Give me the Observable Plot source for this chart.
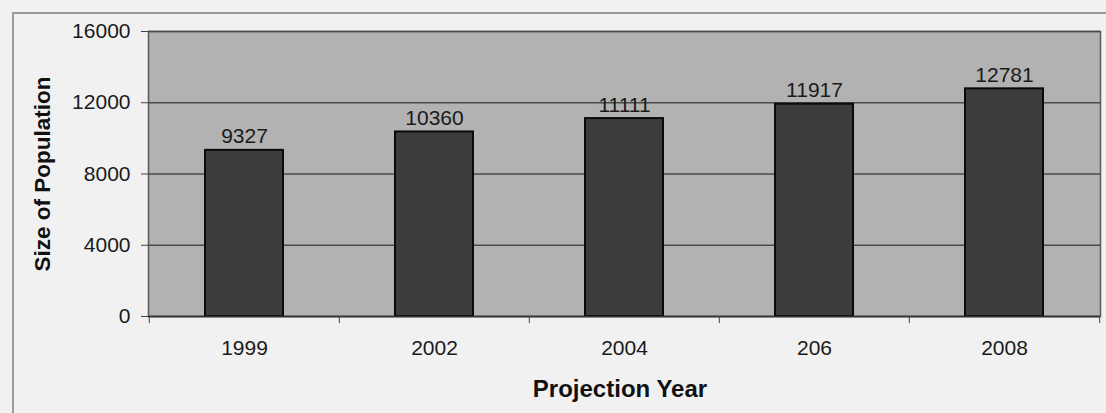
<!DOCTYPE html>
<html>
<head>
<meta charset="utf-8">
<script src="https://cdn.jsdelivr.net/npm/d3@7"></script>
<script src="https://cdn.jsdelivr.net/npm/@observablehq/plot@0.6"></script>
<style>
  html, body { margin: 0; padding: 0; background: #f1f1f1; }
  #wrap { position: relative; width: 1106px; height: 413px; overflow: hidden; }
  #frame { position: absolute; left: 12px; top: 12px; width: 1100px; height: 420px;
           border-left: 2px solid #9a9a9a; border-top: 2px solid #9a9a9a; box-sizing: border-box; }
  #chart { position: absolute; left: 0; top: 0; }
</style>
</head>
<body>
<div id="wrap"><div id="frame"></div><div id="chart"></div></div>
<script>
const years = ["1999", "2002", "2004", "206", "2008"];
const populations = [9327, 10360, 11111, 11917, 12781];
const yTicks = [0, 4000, 8000, 12000, 16000];
const xTitle = "Projection Year";
const yTitle = "Size of Population";

const data = years.map((y, i) => ({year: y, pop: populations[i]}));

const W = 1106, H = 413;
const mL = 148, mR = 6, mT = 31, mB = 97;
const step = (W - mL - mR) / years.length;

const chart = Plot.plot({
  width: W,
  height: H,
  marginLeft: mL,
  marginRight: mR,
  marginTop: mT,
  marginBottom: mB,
  style: {background: "transparent", fontFamily: "Liberation Sans, Arial, sans-serif", color: "#1a1a1a"},
  x: {domain: years, paddingInner: 0.59, paddingOuter: 0.295, label: null},
  y: {domain: [0, 16000], label: null},
  marks: [
    Plot.frame({fill: "#b2b2b2", stroke: "#5a5a5a", strokeWidth: 1.5}),
    Plot.gridY(yTicks, {stroke: "#4a4a4a", strokeOpacity: 1, strokeWidth: 1.3}),
    Plot.barY(data, {x: "year", y: "pop", fill: "#3d3d3d", stroke: "#0a0a0a", strokeWidth: 2}),
    Plot.text(data, {x: "year", y: "pop", text: d => String(d.pop), lineAnchor: "bottom", dy: -7, fontSize: 21, fill: "#1a1a1a"}),
    Plot.ruleY([0], {stroke: "#333", strokeWidth: 1.5}),
    Plot.axisY(yTicks, {tickSize: 7, tickPadding: 11, fontSize: 21, stroke: "#444", tickFormat: d => String(d), label: null}),
    Plot.axisX({tickSize: 0, tickPadding: 24, fontSize: 21, label: null}),
    Plot.axisX(years, {tickSize: 7, text: null, dx: -step / 2, stroke: "#444", label: null}),
    Plot.axisX([years[years.length - 1]], {tickSize: 7, text: null, dx: step / 2, stroke: "#444", label: null})
  ]
});

const svg = d3.select(chart);
svg.append("text")
  .attr("x", mL + (W - mL - mR) / 2 - 4)
  .attr("y", 397)
  .attr("text-anchor", "middle")
  .attr("font-size", 24)
  .attr("font-weight", "bold")
  .attr("fill", "#111")
  .text(xTitle);
svg.append("text")
  .attr("transform", "translate(50,174) rotate(-90)")
  .attr("text-anchor", "middle")
  .attr("font-size", 22.5)
  .attr("font-weight", "bold")
  .attr("fill", "#111")
  .text(yTitle);

document.getElementById("chart").appendChild(chart);
</script>
</body>
</html>
